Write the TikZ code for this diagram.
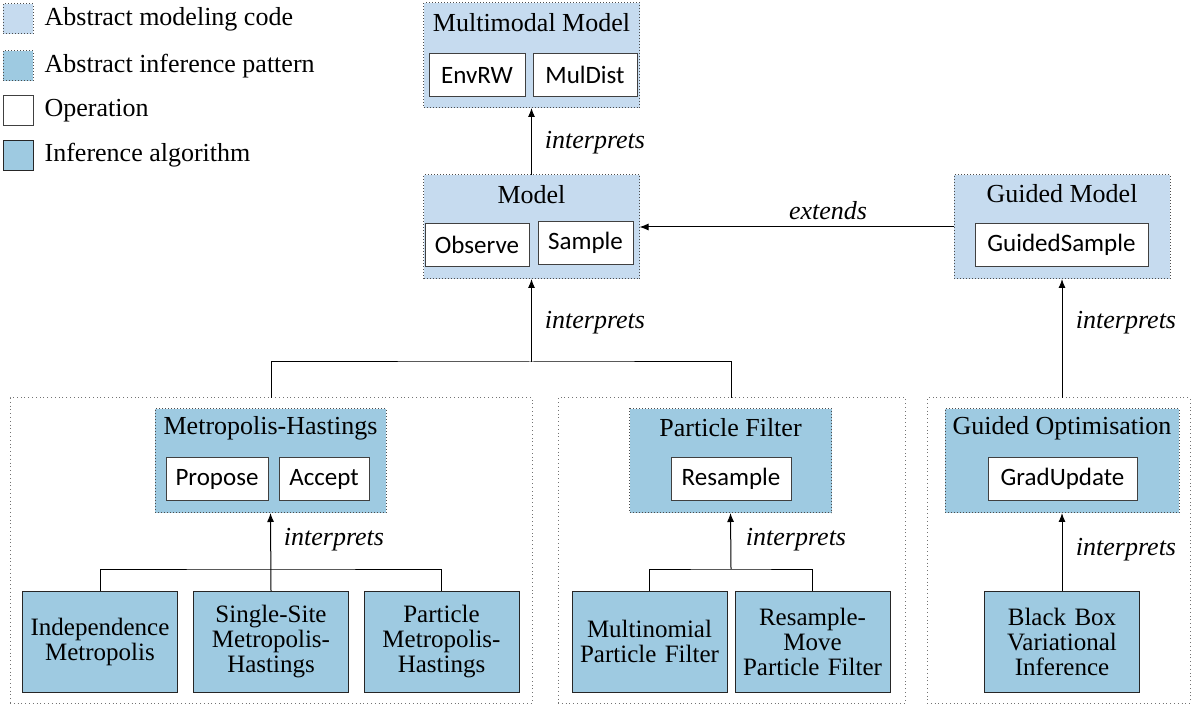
\documentclass[tikz,border=0pt]{standalone}
\usepackage{fontspec}
\setmainfont{Liberation Serif}
\newfontfamily\opfont{Carlito}
\usetikzlibrary{arrows.meta,positioning}
\definecolor{codeblue}{RGB}{198,219,239}
\definecolor{inferblue}{RGB}{158,202,225}
\tikzset{
  absmodel/.style={draw=black!70, densely dotted, fill=codeblue, inner sep=0pt, outer sep=0pt},
  abspattern/.style={draw=black!70, densely dotted, fill=inferblue, inner sep=0pt, outer sep=0pt},
  groupbox/.style={draw=black!55, dash pattern=on 0.4pt off 1.5pt, inner sep=0pt, outer sep=0pt},
  opbox/.style={draw=black!75, fill=white, font=\opfont\fontsize{12.5}{14}\selectfont, minimum height=21.5pt, inner sep=0pt, outer sep=0pt},
  algbox/.style={draw=black!85, fill=inferblue, minimum width=77.5pt, minimum height=50.5pt, text width=74pt, align=center, inner sep=0pt, outer sep=0pt, font=\fontsize{12.5}{12.5}\selectfont},
  keybox/.style={minimum size=15pt, inner sep=0pt},
  titletext/.style={font=\fontsize{13}{15}\selectfont},
  rel/.style={font=\itshape\fontsize{13}{15}\selectfont},
}
\begin{document}
\begin{tikzpicture}[x=0.5pt,y=-0.5pt,>={Latex[length=4.5pt,width=3.5pt]},line width=0.5pt]
    \useasboundingbox (0,0) rectangle (1192,704);
    \node[keybox,draw=black!70,densely dotted,fill=codeblue] (keycode) at (18,19) {};
    \node[keybox,draw=black!70,densely dotted,fill=inferblue] (keypattern) at (18,66) {};
    \node[keybox,draw=black!75,fill=white] (keyop) at (18,110.5) {};
    \node[keybox,draw=black!85,fill=inferblue] (keyalg) at (18,155.5) {};
    \node[titletext,right=2pt of keycode] {Abstract modeling code};
    \node[titletext,right=2pt of keypattern] {Abstract inference pattern};
    \node[titletext,right=2pt of keyop] {Operation};
    \node[titletext,right=2pt of keyalg] {Inference algorithm};
    \node[absmodel,minimum width=108pt,minimum height=52.5pt] (multimodal) at (531.5,55.5) {};
    \node[titletext] at (531.5,23) {Multimodal Model};
    \node[opbox,minimum width=48pt] (envrw) at (477,75) {EnvRW};
    \node[opbox,minimum width=52pt] (muldist) at (585,75) {MulDist};
    \node[absmodel,minimum width=108pt,minimum height=52pt] (model) at (531.5,227) {};
    \node[titletext] at (531.5,195) {Model};
    \node[opbox,minimum width=52pt] (observe) at (477,245) {Observe};
    \node[opbox,minimum width=47.5pt] (sample) at (585.5,243) {Sample};
    \node[absmodel,minimum width=108pt,minimum height=52pt] (guided) at (1062,227) {};
    \node[titletext] at (1062,194) {Guided Model};
    \node[opbox,minimum width=86.5pt] (guidedsample) at (1061.5,245) {GuidedSample};
    \node[groupbox,minimum width=261pt,minimum height=152.5pt] (mhgroup) at (271,550.5) {};
    \node[groupbox,minimum width=173.5pt,minimum height=152.5pt] (pfgroup) at (731.5,550.5) {};
    \node[groupbox,minimum width=131.5pt,minimum height=152.5pt] (gogroup) at (1058.5,550.5) {};
    \node[abspattern,minimum width=115.5pt,minimum height=52pt] (mh) at (270.5,461) {};
    \node[titletext] at (270.5,428) {Metropolis-Hastings};
    \node[opbox,minimum width=51pt] (propose) at (217,479) {Propose};
    \node[opbox,minimum width=45pt] (accept) at (324,479) {Accept};
    \node[abspattern,minimum width=101pt,minimum height=52pt] (pf) at (730.5,461) {};
    \node[titletext] at (730.5,428) {Particle Filter};
    \node[opbox,minimum width=60pt] (resample) at (731,479) {Resample};
    \node[abspattern,minimum width=117pt,minimum height=52pt] (go) at (1062,461) {};
    \node[titletext] at (1062,428) {Guided Optimisation};
    \node[opbox,minimum width=74.5pt] (gradupdate) at (1062.5,479) {GradUpdate};
    \node[algbox] (im) at (100,641.5) {Independence\\Metropolis};
    \node[algbox] (ssmh) at (271,641.5) {Single-Site\\Metropolis-\\Hastings};
    \node[algbox] (pmh) at (441.5,641.5) {Particle\\Metropolis-\\Hastings};
    \node[algbox] (mnpf) at (649.5,641.5) {Multinomial\\Particle Filter};
    \node[algbox] (rmpf) at (812.5,641.5) {Resample-\\Move\\Particle Filter};
    \node[algbox] (bbvi) at (1062,641.5) {Black Box\\Variational\\Inference};
    \coordinate (topsplit) at (531.5,362);
    \coordinate (mhsplit) at (271,569);
    \coordinate (pfsplit) at (731,569);
    \draw[->] (model.north) -- (multimodal.south);
    \draw[->] (guided.west) -- (model.east);
    \draw (mhgroup.north) |- (topsplit) -| (pfgroup.north);
    \draw[->] (topsplit) -- (model.south);
    \draw[->] (guided.south |- gogroup.north) -- (guided.south);
    \draw (im.north) |- (mhsplit) -| (pmh.north);
    \draw[->] (ssmh.north) -- (mh.south);
    \draw (mnpf.north) |- (pfsplit) -| (rmpf.north);
    \draw[->] (pfsplit) -- (pf.south);
    \draw[->] (bbvi.north) -- (go.south);
    \node[rel] (lblmm) at (595,143) {interprets};
    \node[rel] (lblext) at (828,211) {extends};
    \node[rel] (lblmodel) at (595,323) {interprets};
    \node[rel] (lblguided) at (1126,323) {interprets};
    \node[rel] (lblmh) at (334,540) {interprets};
    \node[rel] (lblpf) at (796,540) {interprets};
    \node[rel] (lblgo) at (1126,550) {interprets};
\end{tikzpicture}
\end{document}
